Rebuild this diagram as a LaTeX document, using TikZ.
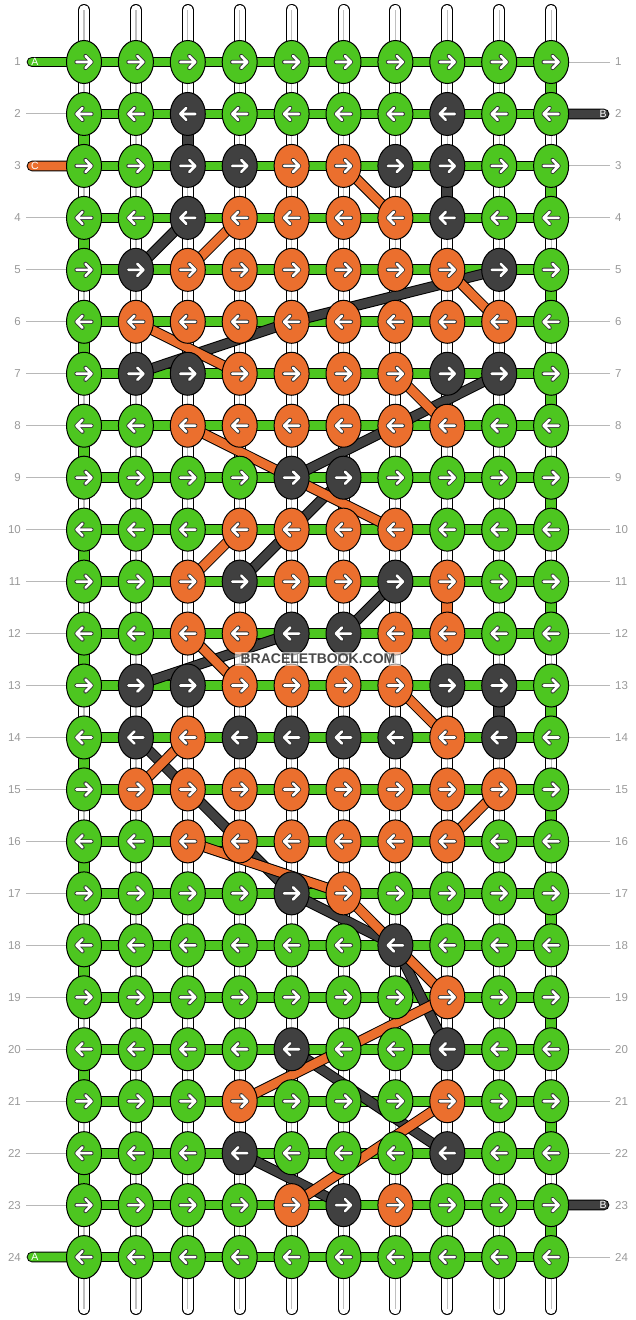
\documentclass[tikz,border=0pt]{standalone}
\usepackage{fontspec}
\setmainfont{Liberation Sans}
\usetikzlibrary{shapes,calc}

\definecolor{kg}{RGB}{77,198,32}
\definecolor{ko}{RGB}{235,111,46}
\definecolor{kd}{RGB}{64,64,64}

\pgfdeclarelayer{back}
\pgfsetlayers{back,main}

% white arrow inside a knot, #1 = 1 (right) or -1 (left)
\newcommand{\knotarrow}[1]{%
  \foreach \pen/\wd in {black!80/4.2pt, white/2.6pt}
    \draw[draw=\pen, line width=\wd, line cap=round, line join=round]
      ([xshift={-7.5pt*(#1)}]path picture bounding box.center) -- ++({15*(#1)},0)
      ++({-6*(#1)},6) -- ++({6*(#1)},-6) -- ++({-6*(#1)},-6);}

\tikzstyle{knot}=[ellipse, draw=black, line width=1pt, inner sep=0pt,
                  minimum width=35pt, minimum height=43pt]
\tikzstyle{rknot}=[knot, path picture={\knotarrow{1}}]
\tikzstyle{lknot}=[knot, path picture={\knotarrow{-1}}]
\tikzstyle{strand}=[draw=black, line width=1pt, double=white, double distance=10pt, line cap=round]
\tikzstyle{strandmid}=[draw=black!25, line width=1.2pt]
\tikzstyle{turn}=[draw=black, line width=1pt, double distance=10pt]
\tikzstyle{bar}=[draw=black, line width=1pt, double distance=8.7pt, line join=round]
\tikzstyle{tag}=[text=white, font=\fontsize{10.5}{11}\selectfont, inner sep=0pt]
\tikzstyle{rownum}=[text=black!40, font=\fontsize{11.5}{12}\selectfont, inner xsep=5pt, inner ysep=1pt]
\tikzstyle{rowline}=[draw=black!28, line width=1pt]
\tikzstyle{watermark}=[fill=white, fill opacity=0.6, text opacity=1, text=kd!95,
                       font=\bfseries\fontsize{14}{14}\selectfont, inner xsep=6pt, inner ysep=2.5pt]

\begin{document}
\begin{tikzpicture}[x=1pt, y=-1pt]
\useasboundingbox (0,0) rectangle (636,1320);

% knots, row by row
\foreach \cols [count=\row] in {
  {g,g,g,g,g,g,g,g,g,g},
  {g,g,d,g,g,g,g,d,g,g},
  {g,g,d,d,o,o,d,d,g,g},
  {g,g,d,o,o,o,o,d,g,g},
  {g,d,o,o,o,o,o,o,d,g},
  {g,o,o,o,o,o,o,o,o,g},
  {g,d,d,o,o,o,o,d,d,g},
  {g,g,o,o,o,o,o,o,g,g},
  {g,g,g,g,d,d,g,g,g,g},
  {g,g,g,o,o,o,o,g,g,g},
  {g,g,o,d,o,o,d,o,g,g},
  {g,g,o,o,d,d,o,o,g,g},
  {g,d,d,o,o,o,o,d,d,g},
  {g,d,o,d,d,d,d,o,d,g},
  {g,o,o,o,o,o,o,o,o,g},
  {g,g,o,o,o,o,o,o,g,g},
  {g,g,g,g,d,o,g,g,g,g},
  {g,g,g,g,g,g,d,g,g,g},
  {g,g,g,g,g,g,g,o,g,g},
  {g,g,g,g,d,g,g,d,g,g},
  {g,g,g,o,g,g,g,o,g,g},
  {g,g,g,d,g,g,g,d,g,g},
  {g,g,g,g,o,d,o,g,g,g},
  {g,g,g,g,g,g,g,g,g,g}}{
  \ifodd\row \def\dir{rknot}\else \def\dir{lknot}\fi
  \foreach \k [count=\col] in \cols
    \node[\dir, fill=k\k] (k-\row-\col) at ({84+(\col-1)*51.9},{62+(\row-1)*51.96}) {};
  \node[rownum, anchor=east] (ln-\row) at (26,{62+(\row-1)*51.96}) {\row};
  \node[rownum, anchor=west] (rn-\row) at (610,{62+(\row-1)*51.96}) {\row};
}

\begin{pgfonlayer}{back}
  % strings
  \foreach \col in {1,...,10} {
    \coordinate (top-\col) at ({84+(\col-1)*51.9},10);
    \coordinate (bot-\col) at ({84+(\col-1)*51.9},1309);
    \draw[strand] (top-\col) -- (bot-\col);
    \draw[strandmid] (top-\col) -- (bot-\col);
  }
  % turns at the edges
  \foreach \row [evaluate=\row as \nxt using int(\row+1)] in {1,3,...,23}
    \draw[turn, double=kg] (k-\row-10.center) -- (k-\nxt-10.center);
  \foreach \row [evaluate=\row as \nxt using int(\row+1)] in {2,4,...,22}
    \draw[turn, double=kg] (k-\row-1.center) -- (k-\nxt-1.center);
  \foreach \a/\b/\clr in {2-3/3-3/kd, 3-8/4-8/kd, 11-8/12-8/ko, 13-9/14-9/kd}
    \draw[turn, double=\clr] (k-\a.center) -- (k-\b.center);
  % rows
  \foreach \row in {1,...,24}
    \draw[bar, double=kg] (k-\row-1.center) -- (k-\row-10.center);
  % loose ends
  \coordinate (end-a1) at (32,62);
  \coordinate (end-c3) at (32,166);
  \coordinate (end-a24) at (32,1257);
  \coordinate (end-b2) at (604,114);
  \coordinate (end-b23) at (604,1205);
  \draw[bar, double=kg, line cap=round] (end-a1) -- (k-1-1.center);
  \draw[bar, double=ko, line cap=round] (end-c3) -- (k-3-1.center);
  \draw[bar, double=kg, line cap=round] (end-a24) -- (k-24-1.center);
  \draw[bar, double=kd, line cap=round] (end-b2) -- (k-2-10.center);
  \draw[bar, double=kd, line cap=round] (end-b23) -- (k-23-10.center);
  % carried threads
  \foreach \a/\b in {4-3/5-2, 7-9/9-5, 9-6/11-4, 11-7/12-6, 12-5/13-2, 14-2/17-5,
                     17-5/18-7, 18-7/20-8, 20-5/22-8, 22-4/23-6}
    \draw[bar, double=kd] (k-\a.center) -- (k-\b.center);
  \draw[bar, double=kd] (k-5-9.center) -- (k-6-5.center) -- (k-7-2.center);
  \foreach \a/\b in {3-6/4-7, 4-4/5-3, 5-8/6-9, 6-2/7-4, 7-7/8-8, 8-3/10-7, 10-4/11-3,
                     12-3/13-4, 13-7/14-8, 14-3/15-2, 15-9/16-8, 16-3/17-6, 17-6/19-8,
                     19-8/21-4, 21-8/23-5}
    \draw[bar, double=ko] (k-\a.center) -- (k-\b.center);
  % row number lines
  \foreach \row in {2,4,5,...,23}
    \draw[rowline] (ln-\row) -- (k-\row-1);
  \foreach \row in {1,3,4,...,22,24}
    \draw[rowline] (rn-\row) -- (k-\row-10);
\end{pgfonlayer}

\node[tag] (tag-a1) at (35,62) {A};
\node[tag] (tag-c3) at (35,166) {C};
\node[tag] (tag-a24) at (35,1257) {A};
\node[tag] (tag-b2) at (603,114) {B};
\node[tag] (tag-b23) at (603,1205) {B};

\node[watermark] (wm) at (318,659) {BRACELETBOOK.COM};
\end{tikzpicture}
\end{document}
